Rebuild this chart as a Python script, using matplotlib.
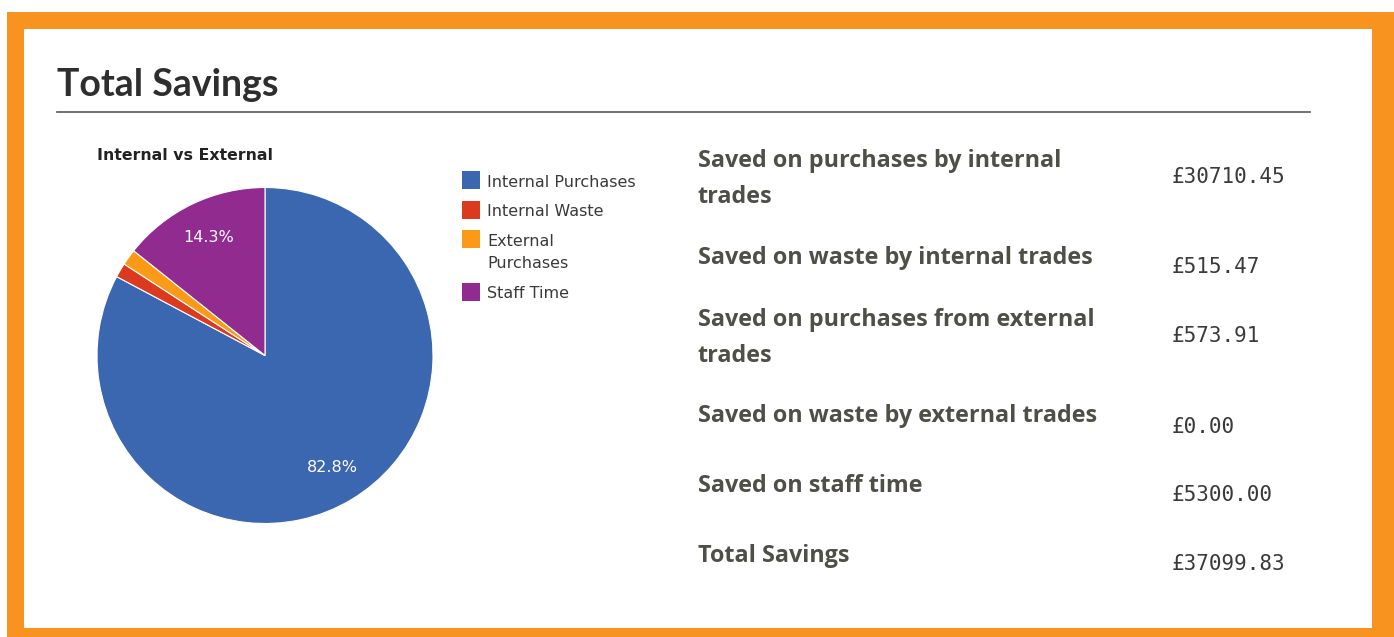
import matplotlib
matplotlib.use("Agg")
import matplotlib.pyplot as plt
from matplotlib.patches import Rectangle

W, H = 1394, 637

categories = ["Internal Purchases", "Internal Waste", "External\nPurchases", "Staff Time"]
values = [30710.45, 515.47, 573.91, 5300.00]
colors = ["#3b66b0", "#dc3a1f", "#fb9a17", "#922b90"]

row_labels = ["Saved on purchases by internal\ntrades",
              "Saved on waste by internal trades",
              "Saved on purchases from external\ntrades",
              "Saved on waste by external trades",
              "Saved on staff time",
              "Total Savings"]
row_values = ["£30710.45", "£515.47", "£573.91", "£0.00", "£5300.00", "£37099.83"]


def fx(x):
    return x / W


def fy(y):
    return 1 - y / H


fig = plt.figure(figsize=(W / 100, H / 100), dpi=100)
fig.patch.set_facecolor("white")

# orange frame
fig.patches.append(Rectangle((fx(7), fy(637)), (1394 - 7) / W, (637 - 12) / H,
                             transform=fig.transFigure, facecolor="#f7931e",
                             edgecolor="none", zorder=0))
fig.patches.append(Rectangle((fx(24), fy(628)), (1372 - 24) / W, (628 - 29) / H,
                             transform=fig.transFigure, facecolor="white",
                             edgecolor="none", zorder=1))

fig.text(fx(57), fy(96), "Total Savings", fontsize=27, fontweight="bold",
         family="Lato", color="#2e2e2e", va="baseline", ha="left", zorder=3)
fig.add_artist(plt.Line2D([fx(57), fx(1310)], [fy(112), fy(112)],
                          transform=fig.transFigure, color="#666666", lw=1.3, zorder=3))

fig.text(fx(97), fy(160.5), "Internal vs External", fontsize=11.3, fontweight="bold",
         family="DejaVu Sans", color="#222222", va="baseline", ha="left", zorder=3)

# pie
cx, cy, r = 265, 355.5, 168
ax = fig.add_axes([fx(cx - r), fy(cy + r), 2 * r / W, 2 * r / H])
ax.set_zorder(3)
wedges, texts, autotexts = ax.pie(
    values, colors=colors, startangle=90, counterclock=False, radius=1,
    autopct=lambda p: f"{p:.1f}%" if p > 5 else "", pctdistance=0.78,
    wedgeprops=dict(edgecolor="white", linewidth=0.8),
    textprops=dict(color="white", fontsize=11.5, family="DejaVu Sans"))
ax.set_xlim(-1, 1)
ax.set_ylim(-1, 1)
ax.set_aspect("equal")
ax.axis("off")

# legend
sq_centers = [180, 209.5, 239.5, 292]
txt_base = [186.7, 216, 245.7, 298]
for lab, col, yc, yb in zip(categories, colors, sq_centers, txt_base):
    fig.patches.append(Rectangle((fx(462), fy(yc + 9)), 18 / W, 18 / H,
                                 transform=fig.transFigure, facecolor=col,
                                 edgecolor="none", zorder=3))
    lines = lab.split("\n")
    for i, ln in enumerate(lines):
        fig.text(fx(487), fy(yb + 22.6 * i), ln, fontsize=11.5, family="DejaVu Sans",
                 color="#3a3a3a", va="baseline", ha="left", zorder=3)

# right table
label_base = [166.7, 263.5, 326.5, 422.5, 492.5, 561.5]
value_base = [183.3, 273, 342, 433, 501, 570]
for lab, yb in zip(row_labels, label_base):
    for i, ln in enumerate(lab.split("\n")):
        fig.text(fx(698), fy(yb + 36 * i), ln, fontsize=16.8, fontweight="bold",
                 family="Open Sans", color="#4f4f47", va="baseline", ha="left", zorder=3)
for val, yb in zip(row_values, value_base):
    fig.text(fx(1172), fy(yb), val, fontsize=15, family="DejaVu Sans Mono",
             color="#3a3a3a", va="baseline", ha="left", zorder=3)

fig.savefig("out.png", dpi=100)
